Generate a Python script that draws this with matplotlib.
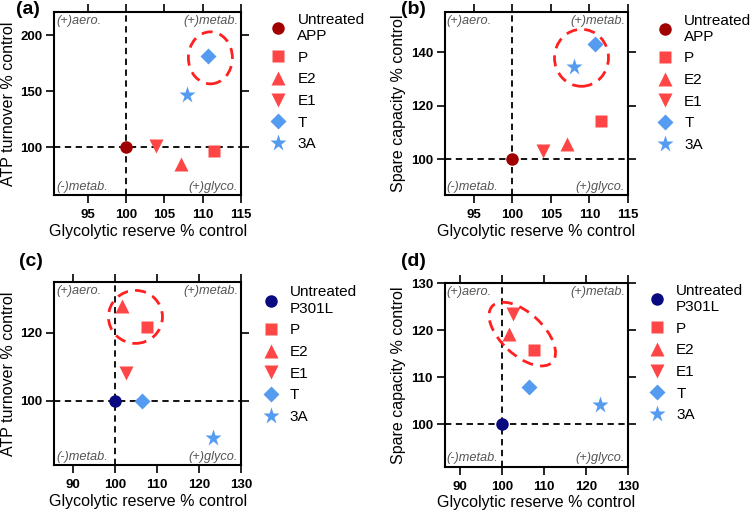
import matplotlib
matplotlib.use("Agg")
import matplotlib.pyplot as plt
from matplotlib.patches import Ellipse
from matplotlib.transforms import ScaledTranslation

plt.rcParams["font.family"] = ["Liberation Sans", "DejaVu Sans"]

# ---- data ----
treatments = ["P", "E2", "E1", "T", "3A"]
app_glyco = [111.5, 107.1, 103.9, 110.7, 108.0]
app_atp = [96.4, 85.1, 100.9, 182.0, 146.8]
app_spare = [114.2, 105.5, 103.1, 143.3, 134.6]
tau_glyco = [107.6, 101.6, 102.7, 106.5, 123.4]
tau_atp = [121.8, 127.9, 108.1, 100.0, 89.1]
tau_spare = [115.8, 119.3, 123.5, 108.0, 104.2]

# circled groups: centre in data units
circle_a = (111.0, 179.9)
circle_b = (108.96, 138.0)
circle_c = (104.9, 124.7)
circle_d = (104.8, 119.2)

RED = "#ff4646"
BLUE = "#559cf0"
markers = ["s", "^", "v", "D", "*"]
msizes = [9, 9.5, 9.5, 8, 12.5]
tcolors = [RED, RED, RED, BLUE, BLUE]

fig = plt.figure(figsize=(7.56, 5.13), dpi=100)
W, H = 756.0, 513.0


def px_axes(l, t, r, b):
    return fig.add_axes([l / W, 1 - b / H, (r - l) / W, (b - t) / H])


def panel(ax, xs, ys, ctrl_label, ctrl_color, xlim, ylim, xticks, yticks,
          ylabel, circ, csize, cang, letter, lpos, legpos):
    ax.set_xlim(*xlim)
    ax.set_ylim(*ylim)
    ax.axvline(100, color="black", ls=(0, (3.5, 2.5)), lw=1.3, zorder=1)
    ax.axhline(100, color="black", ls=(0, (3.5, 2.5)), lw=1.3, zorder=1)
    handles = []
    h = ax.plot([100], [100], "o", color=ctrl_color, ms=9, mec="none",
                zorder=3, label=ctrl_label)[0]
    handles.append(h)
    for i, name in enumerate(treatments):
        h = ax.plot([xs[i]], [ys[i]], markers[i], color=tcolors[i], ms=msizes[i],
                    mec="none", zorder=3, label=name)[0]
        handles.append(h)
    tr = fig.dpi_scale_trans + ScaledTranslation(circ[0], circ[1], ax.transData)
    ax.add_patch(Ellipse((0, 0), csize[0], csize[1], angle=cang, transform=tr,
                         fill=False, ec="#ff2020", lw=2.0, ls=(0, (4, 2.6)),
                         zorder=4))
    ax.set_xticks(xticks)
    ax.set_yticks(yticks)
    ax.tick_params(direction="out", length=6, width=1.2, labelsize=9.5,
                   top=True, right=True)
    ax.tick_params(axis="x", pad=4)
    ax.tick_params(axis="y", pad=2.5)
    for lab in ax.get_xticklabels() + ax.get_yticklabels():
        lab.set_fontweight("bold")
    for s in ax.spines.values():
        s.set_linewidth(1.5)
    ax.set_xlabel("Glycolytic reserve % control", fontsize=11.5, labelpad=2)
    ax.set_ylabel(ylabel, fontsize=11.5, labelpad=3)
    qkw = dict(fontsize=9.2, style="italic", color="#555555", transform=ax.transAxes)
    ax.text(0.012, 0.985, "(+)aero.", ha="left", va="top", **qkw)
    ax.text(0.985, 0.985, "(+)metab.", ha="right", va="top", **qkw)
    ax.text(0.012, 0.012, "(-)metab.", ha="left", va="bottom", **qkw)
    ax.text(0.985, 0.012, "(+)glyco.", ha="right", va="bottom", **qkw)
    fig.text(lpos[0] / W, 1 - lpos[1] / H, letter, fontsize=14, fontweight="bold",
             ha="left", va="center")
    fig.legend(handles=handles, loc="upper left",
               bbox_to_anchor=(legpos[0] / W, 1 - legpos[1] / H),
               frameon=False, fontsize=11, handlelength=1.0, handletextpad=0.75,
               labelspacing=0.5, borderpad=0, borderaxespad=0, numpoints=1)


ax_a = px_axes(54.3, 12, 241, 195)
panel(ax_a, app_glyco, app_atp, "Untreated\nAPP", "#a00000", (90.6, 115), (57, 221),
      [95, 100, 105, 110, 115], [100, 150, 200], "ATP turnover % control",
      circle_a, (0.44, 0.52), 0, "(a)", (16, 9), (270.7, 13))

ax_b = px_axes(444.7, 12.5, 628, 195)
panel(ax_b, app_glyco, app_spare, "Untreated\nAPP", "#a00000", (91.2, 115), (86.5, 155),
      [95, 100, 105, 110, 115], [100, 120, 140], "Spare capacity % control",
      circle_b, (0.54, 0.57), 0, "(b)", (401, 9), (657.4, 13.5))

ax_c = px_axes(54.3, 282, 241, 465)
panel(ax_c, tau_glyco, tau_atp, "Untreated\nP301L", "#0a0a80", (85.6, 130), (81, 135),
      [90, 100, 110, 120, 130], [100, 120], "ATP turnover % control",
      circle_c, (0.54, 0.53), 0, "(c)", (19, 261), (263.1, 285.5))

ax_d = px_axes(444.7, 283.3, 628, 466.7)
panel(ax_d, tau_glyco, tau_spare, "Untreated\nP301L", "#0a0a80", (86.3, 130), (91, 130),
      [90, 100, 110, 120, 130], [100, 110, 120, 130], "Spare capacity % control",
      circle_d, (0.82, 0.42), -43, "(d)", (401, 262), (649.4, 284))

fig.savefig("out.png", dpi=100)
